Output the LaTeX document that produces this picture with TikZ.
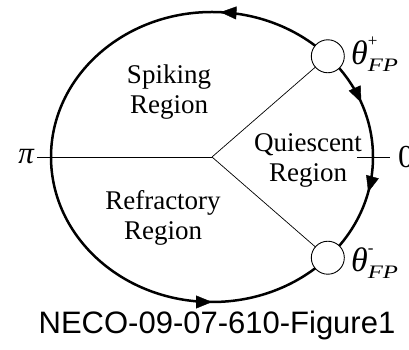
\documentclass[tikz,border=0pt]{standalone}
\usepackage{fontspec}
\setmainfont{Liberation Serif}
\setsansfont{Liberation Sans}
\usetikzlibrary{arrows.meta,decorations.markings,calc}
\newcommand{\fplabel}[1]{{\fontsize{34}{34}\selectfont\itshape θ}\rlap{\raisebox{18pt}{\fontsize{17}{17}\selectfont #1}}\raisebox{-7pt}{\fontsize{19}{19}\selectfont\itshape\scalebox{1.3}[1]{FP}}}
\begin{document}
\begin{tikzpicture}[x=1pt,y=1pt,
    orbit/.style={line width=2.5pt},
    spoke/.style={line width=0.7pt},
    fixpt/.style={circle,draw,line width=0.9pt,fill=white,minimum size=33pt,inner sep=0pt},
    region/.style={align=center,font=\fontsize{27}{30}\selectfont},
    flow/.style={postaction=decorate,decoration={markings,
        mark=at position 0.5 with {\arrow{Triangle[length=16pt,width=13pt]}}}}]
    \useasboundingbox (0,0) rectangle (409,350);
    \coordinate (c) at (212,193);
    \coordinate (pitick) at (37,193);
    \coordinate (zl) at (357,193);
    \coordinate (zr) at (390,193);
    \draw[spoke] (pitick) -- (c);
    \draw[spoke] (zl) -- (zr);
    \draw[orbit] (c) ellipse [x radius=161, y radius=145];
    \foreach \a/\b in {80/94,28/16,-8/-20,-97/-83}
    {
        \path[flow] ($(c)+(\a:161 and 145)$) arc [start angle=\a, end angle=\b, x radius=161, y radius=145];
    }
    \node[fixpt] (fpplus) at ($(c)+(44:161 and 145)$) {};
    \node[fixpt] (fpminus) at ($(c)+(-44:161 and 145)$) {};
    \draw[spoke] (c) -- (fpplus);
    \draw[spoke] (c) -- (fpminus);
    \node[anchor=base west,inner sep=0pt] (thplus) at (351,285) {\fplabel{+}};
    \node[anchor=base west,inner sep=0pt] (thminus) at (351,78) {\fplabel{-}};
    \node[anchor=east,inner sep=3pt,font=\fontsize{31}{31}\selectfont\itshape] (pilbl) at (pitick) {π};
    \node[anchor=west,inner sep=8pt,font=\fontsize{32}{32}\selectfont] (zerolbl) at (zr) {0};
    \node[region] (spiking) at (169,258) {Spiking\\Region};
    \node[region] (quiescent) at (308,190) {Quiescent\\Region};
    \node[region] (refractory) at (163,132) {Refractory\\Region};
    \node[anchor=base,font=\sffamily\fontsize{31}{31}\selectfont] (caption) at (217,16) {NECO-09-07-610-Figure1};
\end{tikzpicture}
\end{document}
